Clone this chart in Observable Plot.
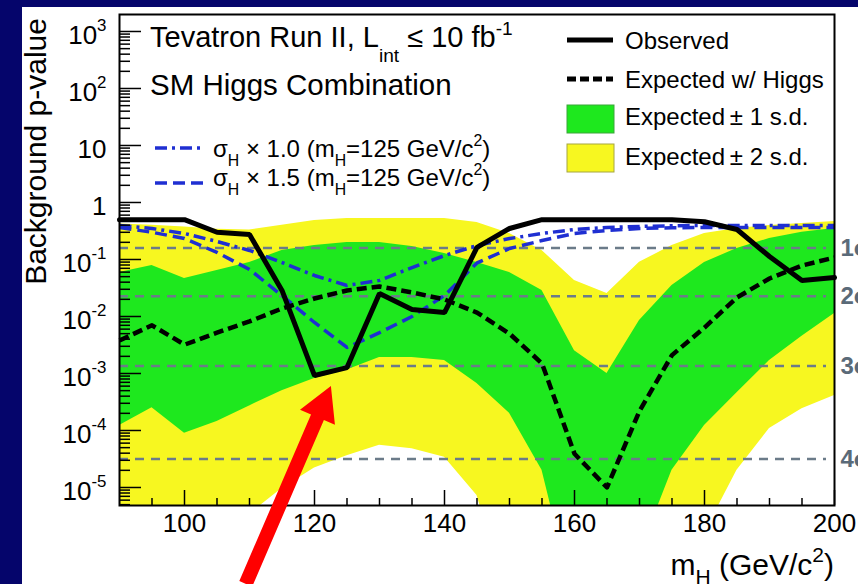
<!DOCTYPE html>
<html>
<head>
<meta charset="utf-8">
<script src="https://cdn.jsdelivr.net/npm/d3@7"></script>
<script src="https://cdn.jsdelivr.net/npm/@observablehq/plot@0.6"></script>
<style>
  html, body { margin: 0; padding: 0; width: 858px; height: 584px; overflow: hidden; background: #05056b; }
  #panel { position: absolute; left: 22px; top: 7px; width: 836px; height: 577px; background: #fff; overflow: hidden; }
  #panel svg { display: block; }
</style>
</head>
<body>
<div id="panel"></div>
<script>
// Higgs boson mass hypotheses (GeV/c^2)
const mass = [90, 95, 100, 105, 110, 115, 120, 125, 130, 135, 140, 145, 150, 155, 160, 165, 170, 175, 180, 185, 190, 195, 200];

// Observed background p-value
const observed = [0.5, 0.5, 0.5, 0.30, 0.275, 0.0286, 0.00092, 0.00127, 0.0253, 0.0133, 0.0117, 0.163, 0.35,
  0.5, 0.5, 0.5, 0.5, 0.5, 0.46, 0.336, 0.113, 0.0428, 0.0483];

// Expected p-value with a SM Higgs at each mass
const expected = [0.0038, 0.0070, 0.0032, 0.0052, 0.0082, 0.0138, 0.0207, 0.0286, 0.0336, 0.0264, 0.0199, 0.0117, 0.0050,
  0.0015, 3.9e-5, 1.0e-5, 2.2e-4, 2.1e-3, 6.4e-3, 0.0216, 0.0464, 0.0785, 0.108];

// Expected for an injected signal at m_H = 125, scaled by 1.0 and 1.5
const sigma10 = [0.395, 0.35, 0.286, 0.207, 0.144, 0.0885, 0.0524, 0.035, 0.043, 0.072, 0.117, 0.176, 0.233,
  0.286, 0.336, 0.365, 0.38, 0.39, 0.395, 0.395, 0.395, 0.395, 0.395];
const sigma15 = [0.364, 0.30, 0.233, 0.133, 0.0668, 0.0233, 0.00785, 0.00286, 0.0052, 0.0100, 0.0233, 0.087, 0.156,
  0.215, 0.286, 0.323, 0.35, 0.36, 0.364, 0.364, 0.364, 0.364, 0.364];

// +-1 s.d. band
const band1Low = [1.22e-4, 2.5e-4, 8.9e-5, 1.44e-4, 2.7e-4, 5.0e-4, 8.2e-4, 1.15e-3, 1.9e-3, 1.9e-3, 1.69e-3, 6.7e-4, 2.0e-4,
  2.0e-5, 1e-7, 1e-8, 7e-7, 2.0e-5, 1.22e-4, 4.6e-4, 1.69e-3, 4.5e-3, 0.0113];
const band1High = [0.059, 0.0785, 0.0464, 0.064, 0.0885, 0.144, 0.176, 0.199, 0.199, 0.169, 0.127, 0.0885, 0.059,
  0.0286, 0.0025, 0.001, 0.0085, 0.035, 0.0885, 0.156, 0.233, 0.30, 0.35];

// +-2 s.d. band
const band2Low = [1e-7, 1e-7, 1e-7, 5e-7, 3.4e-6, 9.6e-6, 2.2e-5, 3.6e-5, 5.5e-5, 4.8e-5, 3.4e-5, 7.2e-6, 1e-7,
  1e-9, 1e-9, 1e-9, 1e-9, 1e-9, 1.6e-6, 2.0e-5, 1.08e-4, 2.4e-4, 4.1e-4];
const band2High = [0.42, 0.40, 0.37, 0.34, 0.33, 0.40, 0.483, 0.524, 0.524, 0.524, 0.524, 0.446, 0.286,
  0.144, 0.0428, 0.0253, 0.089, 0.176, 0.286, 0.35, 0.395, 0.428, 0.464];

// One-sided significance levels
const sigmaP = [0.1587, 0.02275, 0.00135, 3.17e-5];
const sigmaLabels = ["1\u03c3", "2\u03c3", "3\u03c3", "4\u03c3"];

// Axis ticks and labels
const xTickValues = [100, 120, 140, 160, 180, 200];
const xTickLabels = ["100", "120", "140", "160", "180", "200"];
const xMinorTicks = [95, 105, 110, 115, 125, 130, 135, 145, 150, 155, 165, 170, 175, 185, 190, 195];
const yTickValues = [1e-5, 1e-4, 1e-3, 1e-2, 1e-1, 1, 10, 100, 1000];
const yTickLabels = ["10^{-5}", "10^{-4}", "10^{-3}", "10^{-2}", "10^{-1}", "1", "10", "10^{2}", "10^{3}"];
const yDomain = [10 ** -5.316, 10 ** 3.298];
const yMinorTicks = [];
for (let e = -6; e <= 3; ++e) for (let k = 2; k <= 9; ++k) {
  const v = k * 10 ** e;
  if (v > yDomain[0] && v < yDomain[1]) yMinorTicks.push(v);
}

// Red pointer towards the 125 GeV excess
const arrowTail = {mass: 109.5, p: 10 ** -6.70};
const arrowTip = {mass: 122.6, p: 10 ** -3.228};

const FONT = "'Liberation Sans', Arial, Helvetica, sans-serif";
const GREEN = "#1ee81e", YELLOW = "#f7f720", BLUE = "#1f2fd2", GREY = "#6b7b89", SIGMA_TEXT = "#5a6a78";

const rows = mass.map((m, i) => ({
  m, obs: observed[i], exp: expected[i], s10: sigma10[i], s15: sigma15[i],
  g1: band1Low[i], g2: band1High[i], y1: band2Low[i], y2: band2High[i]
}));
const sigmaRows = sigmaP.map((p, i) => ({p, label: sigmaLabels[i]}));

// Writes "a^{b}" / "a_{b}" markup into an SVG text element as tspans
function rich(sel, str, size, {sup = 0.45, sub = 0.35, scale = 0.66} = {}) {
  const re = /([\^_])\{([^}]*)\}/g;
  let last = 0, off = 0, m;
  const add = (t, kind) => {
    if (!t) return;
    const ts = sel.append("tspan").text(t);
    const target = kind === "^" ? -sup * size : kind === "_" ? sub * size : 0;
    if (target - off) ts.attr("dy", target - off);
    if (kind) ts.attr("font-size", size * scale);
    off = target;
  };
  while ((m = re.exec(str))) { add(str.slice(last, m.index)); add(m[2], m[1]); last = re.lastIndex; }
  add(str.slice(last));
}

function arrowMark(index, {x, y}) {
  const x0 = x(arrowTail.mass), y0 = y(arrowTail.p);
  const x1 = x(arrowTip.mass), y1 = y(arrowTip.p);
  const len = Math.hypot(x1 - x0, y1 - y0), ux = (x1 - x0) / len, uy = (y1 - y0) / len;
  const nx = -uy, ny = ux, w = 7, hw = 19, hl = 34;
  const bx = x1 - ux * hl, by = y1 - uy * hl;
  const pts = [[x0 + nx * w, y0 + ny * w], [bx + nx * w, by + ny * w], [bx + nx * hw, by + ny * hw], [x1, y1],
    [bx - nx * hw, by - ny * hw], [bx - nx * w, by - ny * w], [x0 - nx * w, y0 - ny * w]];
  return d3.create("svg:polygon").attr("points", pts.map(p => p.join(",")).join(" ")).attr("fill", "#ff0000").node();
}

function annotations() {
  const g = d3.create("svg:g").attr("font-family", FONT).attr("fill", "black");
  const text = (x, y, str, size, opts, anchor = "start") => {
    const t = g.append("text").attr("x", x).attr("y", y).attr("font-size", size).attr("text-anchor", anchor);
    rich(t, str, size, opts);
    return t;
  };
  // header
  text(128, 40, "Tevatron Run II, L_{int} \u2264 10 fb^{-1}", 29, {sub: 0.5, sup: 0.42});
  text(128, 88, "SM Higgs Combination", 29.5);
  // signal-injection legend
  g.append("line").attr("x1", 133).attr("x2", 181).attr("y1", 141).attr("y2", 141)
    .attr("stroke", BLUE).attr("stroke-width", 3.5).attr("stroke-dasharray", "12,5,3,5");
  g.append("line").attr("x1", 133).attr("x2", 181).attr("y1", 176).attr("y2", 176)
    .attr("stroke", BLUE).attr("stroke-width", 3.5).attr("stroke-dasharray", "12,6");
  text(191, 150, "\u03c3_{H} \u00d7 1.0 (m_{H}=125 GeV/c^{2})", 24, {sub: 0.38});
  text(191, 179, "\u03c3_{H} \u00d7 1.5 (m_{H}=125 GeV/c^{2})", 24, {sub: 0.38});
  // main legend
  g.append("line").attr("x1", 545).attr("x2", 591).attr("y1", 33).attr("y2", 33)
    .attr("stroke", "black").attr("stroke-width", 5);
  g.append("line").attr("x1", 545).attr("x2", 591).attr("y1", 72).attr("y2", 72)
    .attr("stroke", "black").attr("stroke-width", 5).attr("stroke-dasharray", "9,4");
  g.append("rect").attr("x", 545).attr("y", 98).attr("width", 47).attr("height", 28)
    .attr("fill", GREEN).attr("stroke", "#3aa63a").attr("stroke-width", 1);
  g.append("rect").attr("x", 545).attr("y", 137).attr("width", 47).attr("height", 28)
    .attr("fill", YELLOW).attr("stroke", "#a6a640").attr("stroke-width", 1);
  text(603, 42, "Observed", 24);
  text(603, 81, "Expected w/ Higgs", 24);
  text(603, 118, "Expected\u2009\u00b1 1 s.d.", 24);
  text(603, 158, "Expected\u2009\u00b1 2 s.d.", 24);
  // axis titles
  text(812, 568, "m_{H} (GeV/c^{2})", 30, {sub: 0.3, sup: 0.42, scale: 0.7}, "end");
  g.append("text").attr("transform", "translate(24,11) rotate(-90)").attr("text-anchor", "end")
    .attr("font-size", 30).text("Background p-value");
  return g.node();
}

const chart = Plot.plot({
  width: 836,
  height: 577,
  marginLeft: 97,
  marginRight: 24,
  marginTop: 7,
  marginBottom: 79,
  style: {fontFamily: FONT, background: "white", color: "black"},
  x: {domain: [90, 200], label: null, axis: null},
  y: {type: "log", domain: yDomain, label: null, axis: null},
  marks: [
    Plot.areaY(rows, {x: "m", y1: "y1", y2: "y2", fill: YELLOW, clip: true}),
    Plot.areaY(rows, {x: "m", y1: "g1", y2: "g2", fill: GREEN, clip: true}),
    Plot.ruleY(sigmaRows, {y: "p", stroke: GREY, strokeWidth: 2.5, strokeDasharray: "9,7", insetRight: 8}),
    Plot.text(sigmaRows, {y: "p", text: "label", frameAnchor: "right", dx: 6, textAnchor: "start",
      fill: SIGMA_TEXT, fontSize: 24, fontWeight: "bold"}),
    Plot.line(rows, {x: "m", y: "s10", stroke: BLUE, strokeWidth: 3.5, strokeDasharray: "12,5,3,5", strokeLinecap: "butt"}),
    Plot.line(rows, {x: "m", y: "s15", stroke: BLUE, strokeWidth: 3.5, strokeDasharray: "12,6", strokeLinecap: "butt"}),
    Plot.line(rows, {x: "m", y: "exp", stroke: "black", strokeWidth: 4.5, strokeDasharray: "10,5", strokeLinecap: "butt"}),
    Plot.line(rows, {x: "m", y: "obs", stroke: "black", strokeWidth: 5, strokeLinejoin: "miter"}),
    Plot.frame({stroke: "black", strokeWidth: 2}),
    // inward tick marks
    Plot.axisY(yTickValues, {anchor: "left", tickSize: 22, dx: 22, strokeWidth: 1.5, tickFormat: () => "", label: null}),
    Plot.axisY(yMinorTicks, {anchor: "left", tickSize: 11, dx: 11, strokeWidth: 1.5, tickFormat: () => "", label: null}),
    Plot.axisX(xTickValues, {anchor: "bottom", tickSize: 15, dy: -15, strokeWidth: 1.5, tickFormat: () => "", label: null}),
    Plot.axisX(xMinorTicks, {anchor: "bottom", tickSize: 7, dy: -7, strokeWidth: 1.5, tickFormat: () => "", label: null}),
    // tick labels
    Plot.axisY(yTickValues, {anchor: "left", tickSize: 0, tickPadding: 13, dy: 4, fontSize: 26, label: null,
      tickFormat: d => yTickLabels[yTickValues.indexOf(d)]}),
    Plot.axisX(xTickValues, {anchor: "bottom", tickSize: 0, tickPadding: 8, fontSize: 26, label: null,
      tickFormat: d => xTickLabels[xTickValues.indexOf(d)]}),
    annotations,
    arrowMark
  ]
});

// exponent markup in axis labels
d3.select(chart).selectAll("text").each(function () {
  const s = this.textContent;
  if (s.includes("^{") && this.querySelector("tspan") === null) {
    const sel = d3.select(this);
    sel.text("");
    rich(sel, s, 26, {sup: 0.5, scale: 0.65});
  }
});

document.getElementById("panel").appendChild(chart);
</script>
</body>
</html>
